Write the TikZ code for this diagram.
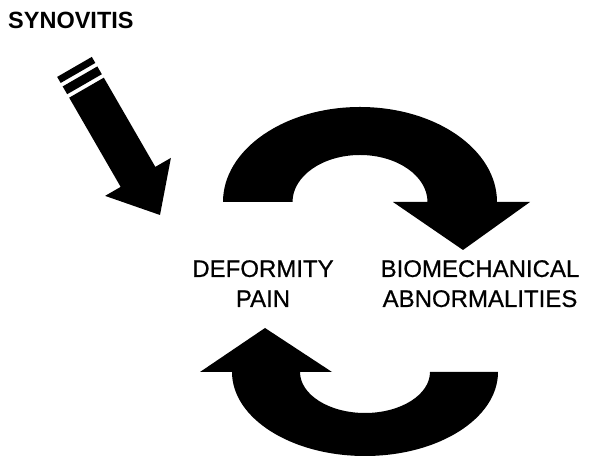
\documentclass[tikz,border=0pt]{standalone}
\usepackage{fontspec}
\setmainfont{Liberation Sans}
\newfontfamily\heavyfont[FakeBold=0.6]{Liberation Sans}
\usepackage{tikz}

\begin{document}
\begin{tikzpicture}[x=1pt,y=1pt,lbl/.style={inner sep=0,align=center,font=\heavyfont\fontsize{24}{30}\selectfont}]
\useasboundingbox (0,0) rectangle (589,457);
\node[lbl,anchor=north west,font=\fontsize{23.5}{28}\selectfont\bfseries] (syn) at (8,445){SYNOVITIS};
% striped arrow, drawn along x, then turned down to the right
\begin{scope}[shift={(160,242)},rotate=-60]
\fill (0,0)--(-44,38)--(-44,20)--(-147,20)--(-147,-20)--(-44,-20)--(-44,-38)--cycle;
\fill (-151,20) rectangle (-160,-20);\fill (-164,20) rectangle (-171,-20);
\end{scope}
% upper and lower turning arrows
\fill (223,255) arc[start angle=180,end angle=0,x radius=137,y radius=95]--(530,255)--(463,207)--(393,255)--(427.5,255) arc[start angle=0,end angle=180,x radius=67.5,y radius=47]--cycle;
\fill (498,85) arc[start angle=0,end angle=-180,x radius=133,y radius=84]--(200,85)--(265,129)--(332,85)--(300,85) arc[start angle=180,end angle=360,x radius=65,y radius=41]--cycle;
\node[lbl,anchor=north] (deform) at (263,197){DEFORMITY\\PAIN};
\node[lbl,anchor=north] (biomech) at (480,197){BIOMECHANICAL\\ABNORMALITIES};
\end{tikzpicture}
\end{document}
